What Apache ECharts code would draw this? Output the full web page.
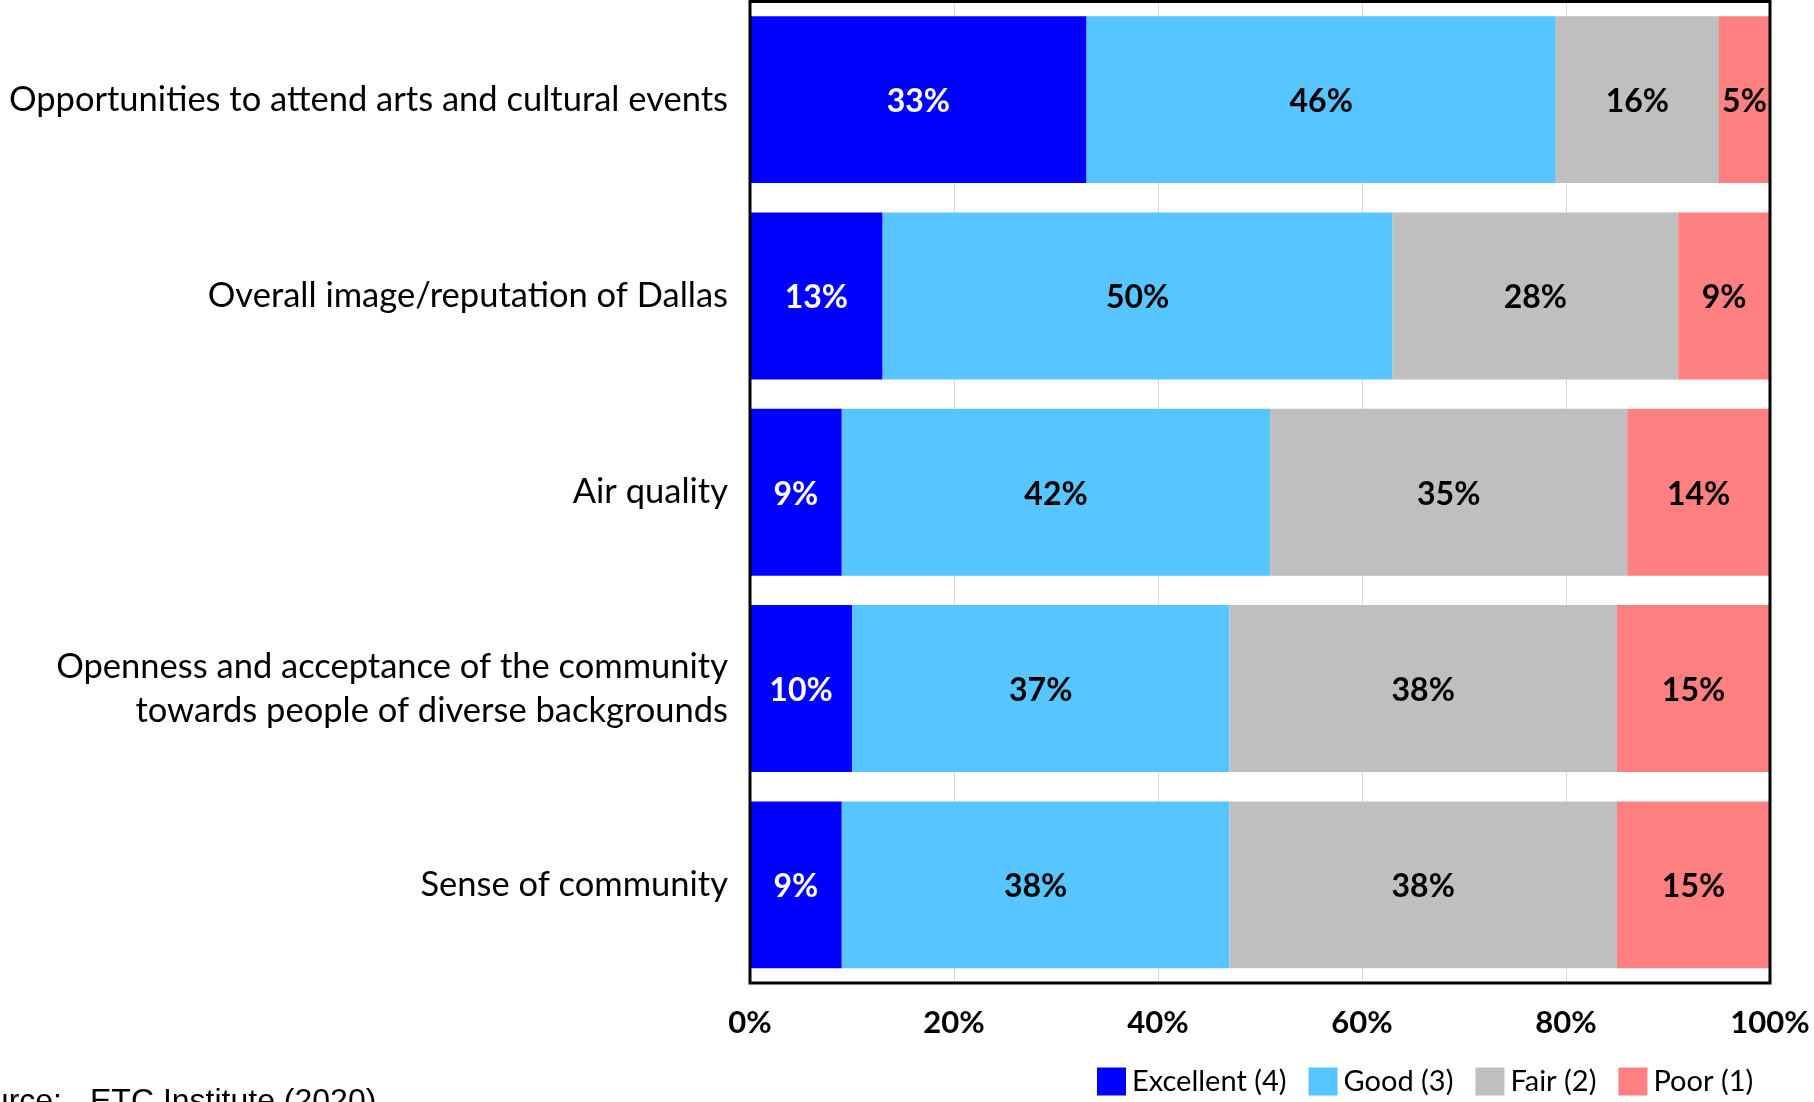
<!DOCTYPE html>
<html>
<head>
<meta charset="utf-8">
<title>Community ratings</title>
<script src="https://cdn.jsdelivr.net/npm/echarts@6/dist/echarts.min.js"></script>
<style>
  html, body { margin: 0; padding: 0; background: #fff; }
  #chart { width: 1814px; height: 1102px; }
</style>
</head>
<body>
<div id="chart"></div>
<script>
// Survey items, top to bottom
const categories = [
  'Opportunities to attend arts and cultural events',
  'Overall image/reputation of Dallas',
  'Air quality',
  'Openness and acceptance of the community\ntowards people of diverse backgrounds',
  'Sense of community'
];

// Share of respondents (%) per rating
const excellent = [33, 13, 9, 10, 9];
const good      = [46, 50, 42, 37, 38];
const fair      = [16, 28, 35, 38, 38];
const poor      = [5, 9, 14, 15, 15];

const seriesNames = ['Excellent (4)', 'Good (3)', 'Fair (2)', 'Poor (1)'];
const xTicks = [0, 20, 40, 60, 80, 100];

const colors = ['#0000FF', '#57C5FF', '#BFBFBF', '#FF8080'];
const labelColors = ['#FFFFFF', '#000000', '#000000', '#000000'];
const FONT = 'Lato, "Open Sans", sans-serif';

const chart = echarts.init(document.getElementById('chart'));

function makeSeries(name, data, i) {
  return {
    name: name,
    type: 'bar',
    stack: 'total',
    data: data,
    barCategoryGap: '15%',
    itemStyle: { color: colors[i] },
    label: {
      show: true,
      position: 'inside',
      offset: [0, 2],
      formatter: p => p.value + '%',
      color: labelColors[i],
      fontFamily: FONT,
      fontWeight: 'bold',
      fontSize: 32
    },
    emphasis: { disabled: true }
  };
}

chart.setOption({
  animation: false,
  backgroundColor: '#ffffff',
  grid: {
    left: 750,
    right: 44,
    top: 1.5,
    bottom: 119,
    containLabel: false,
    outerBoundsMode: 'none',
    show: true,
    z: 10,
    borderColor: '#000000',
    borderWidth: 3,
    backgroundColor: 'transparent'
  },
  legend: {
    left: 1092,
    top: 1062,
    itemWidth: 29,
    itemHeight: 28,
    itemGap: 22,
    icon: 'rect',
    data: seriesNames,
    textStyle: { fontFamily: FONT, fontSize: 29, color: '#000000', padding: [0, 0, 0, 1] }
  },
  xAxis: {
    type: 'value',
    min: xTicks[0],
    max: xTicks[xTicks.length - 1],
    interval: 20,
    axisLine: { show: false },
    axisTick: { show: false },
    splitLine: { show: true, lineStyle: { color: '#D9D9D9', width: 1 } },
    axisLabel: {
      formatter: '{value}%',
      margin: 24,
      color: '#000000',
      fontFamily: FONT,
      fontWeight: 'bold',
      fontSize: 31
    }
  },
  yAxis: {
    type: 'category',
    inverse: true,
    data: categories,
    axisLine: { show: false },
    axisTick: { show: false },
    axisLabel: {
      margin: 22,
      color: '#000000',
      fontFamily: FONT,
      fontSize: 34.5,
      lineHeight: 44,
      align: 'right'
    }
  },
  graphic: [
    {
      type: 'text',
      x: 62, y: 1102,
      style: {
        text: 'Source:',
        fontFamily: 'Liberation Sans, Arial, sans-serif',
        fontSize: 32,
        fill: '#000000',
        align: 'right',
        verticalAlign: 'middle'
      }
    },
    {
      type: 'text',
      x: 90, y: 1102,
      style: {
        text: 'ETC Institute (2020)',
        fontFamily: 'Liberation Sans, Arial, sans-serif',
        fontSize: 32,
        fill: '#000000',
        align: 'left',
        verticalAlign: 'middle'
      }
    }
  ],
  series: [
    makeSeries(seriesNames[0], excellent, 0),
    makeSeries(seriesNames[1], good, 1),
    makeSeries(seriesNames[2], fair, 2),
    makeSeries(seriesNames[3], poor, 3)
  ]
});
</script>
</body>
</html>
